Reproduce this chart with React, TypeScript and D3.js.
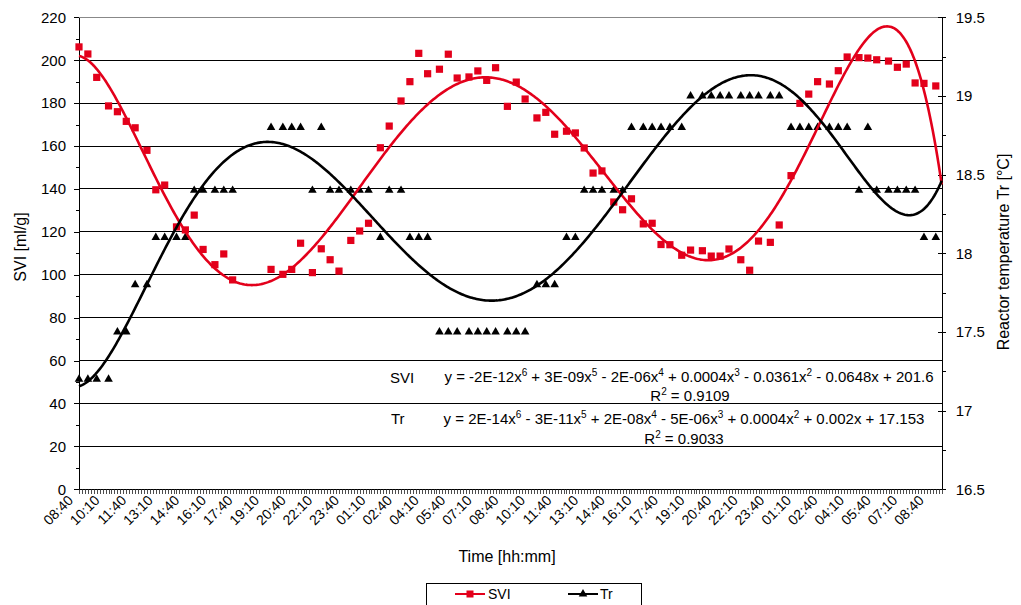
import { useEffect, useRef } from 'react';
import * as d3 from 'd3';

// rows of the sheet are 10-minute steps starting at 08:40
const CATEGORY_COUNT = 293;
const LABEL_EVERY = 9;
const xTickLabels = [
  '08:40', '10:10', '11:40', '13:10', '14:40', '16:10', '17:40', '19:10', '20:40', '22:10', '23:40',
  '01:10', '02:40', '04:10', '05:40', '07:10', '08:40', '10:10', '11:40', '13:10', '14:40', '16:10',
  '17:40', '19:10', '20:40', '22:10', '23:40', '01:10', '02:40', '04:10', '05:40', '07:10', '08:40',
];

// row index of each measurement
const sampleIdx = [
  0, 3, 6, 10, 13, 16, 19, 23, 26, 29, 33, 36, 39, 42, 46, 49, 52,
  65, 69, 72, 75, 79, 82, 85, 88, 92, 95,
  98, 102, 105, 109, 112, 115, 118, 122, 125, 128,
  132, 135, 138, 141, 145, 148, 151, 155, 158, 161,
  165, 168, 171, 174, 177, 181, 184, 187, 191, 194,
  197, 200, 204, 207, 211, 214, 217, 220, 224, 227,
  230, 234, 237, 241, 244, 247, 250, 254, 257, 260,
  264, 267, 270, 274, 277, 280, 283, 286, 290,
];

const sviValues = [
  206.2, 202.9, 192.0, 178.7, 176.0, 171.5, 168.5, 158.0, 139.6, 141.8, 122.3, 120.9, 127.8, 111.8, 104.7, 109.7, 97.6,
  102.5, 100.2, 102.5, 114.7, 101.0, 112.1, 107.0, 101.7, 116.0, 120.4,
  124.0, 159.2, 169.3, 181.0, 190.0, 203.2, 193.7, 195.8, 202.8, 191.7,
  192.2, 195.0, 190.6, 196.5, 178.5, 189.8, 181.9, 173.1, 175.7, 165.5,
  166.9, 166.1, 159.1, 147.4, 148.4, 133.9, 130.3, 135.4, 123.7, 124.0,
  114.1, 114.0, 109.1, 111.5, 111.2, 108.7, 108.7, 112.0, 107.0, 102.1,
  115.7, 115.1, 123.2, 146.2, 179.9, 184.2, 190.0, 188.9, 195.1, 201.5,
  201.2, 201.0, 200.2, 199.6, 196.7, 198.2, 189.4, 189.2, 188.0,
];

const trValues = [
  17.2, 17.2, 17.2, 17.2, 17.5, 17.5, 17.8, 17.8, 18.1, 18.1, 18.1, 18.1, 18.4, 18.4, 18.4, 18.4, 18.4,
  18.8, 18.8, 18.8, 18.8, 18.4, 18.8, 18.4, 18.4, 18.4, 18.4,
  18.4, 18.1, 18.4, 18.4, 18.1, 18.1, 18.1, 17.5, 17.5, 17.5,
  17.5, 17.5, 17.5, 17.5, 17.5, 17.5, 17.5, 17.8, 17.8, 17.8,
  18.1, 18.1, 18.4, 18.4, 18.4, 18.4, 18.4, 18.8, 18.8, 18.8,
  18.8, 18.8, 18.8, 19.0, 19.0, 19.0, 19.0, 19.0, 19.0, 19.0,
  19.0, 19.0, 19.0, 18.8, 18.8, 18.8, 18.8, 18.8, 18.8, 18.8,
  18.4, 18.8, 18.4, 18.4, 18.4, 18.4, 18.4, 18.1, 18.1,
];

const sviTicks = [0, 20, 40, 60, 80, 100, 120, 140, 160, 180, 200, 220];
const trTicks = [16.5, 17, 17.5, 18, 18.5, 19, 19.5];

const sviEquation = 'y = -2E-12x^6 + 3E-09x^5 - 2E-06x^4 + 0.0004x^3 - 0.0361x^2 - 0.0648x + 201.6';
const sviR2 = 'R^2 = 0.9109';
const trEquation = 'y = 2E-14x^6 - 3E-11x^5 + 2E-08x^4 - 5E-06x^3 + 0.0004x^2 + 0.002x + 17.153';
const trR2 = 'R^2 = 0.9033';

const RED = '#e3001b';
const FONT = '"Liberation Sans", Arial, sans-serif';

// least squares polynomial, like the Excel trendline
function polyfit(xs: number[], ys: number[], deg: number) {
  const c = (CATEGORY_COUNT - 1) / 2;
  const n = deg + 1;
  const A: number[][] = Array.from({ length: n }, () => new Array(n + 1).fill(0));
  xs.forEach((xv, i) => {
    const t = (xv - c) / c;
    const pw = [1];
    for (let k = 1; k <= 2 * deg; k++) pw.push(pw[k - 1] * t);
    for (let r = 0; r < n; r++) {
      for (let q = 0; q < n; q++) A[r][q] += pw[r + q];
      A[r][n] += pw[r] * ys[i];
    }
  });
  for (let col = 0; col < n; col++) {
    let piv = col;
    for (let r = col + 1; r < n; r++) if (Math.abs(A[r][col]) > Math.abs(A[piv][col])) piv = r;
    [A[col], A[piv]] = [A[piv], A[col]];
    for (let r = 0; r < n; r++) {
      if (r === col) continue;
      const f = A[r][col] / A[col][col];
      for (let q = col; q <= n; q++) A[r][q] -= f * A[col][q];
    }
  }
  const coef = A.map((row, i) => row[n] / A[i][i]);
  return (xv: number) => {
    const t = (xv - c) / c;
    let v = 0;
    for (let k = n - 1; k >= 0; k--) v = v * t + coef[k];
    return v;
  };
}

export default function App() {
  const svgRef = useRef<SVGSVGElement>(null);

  useEffect(() => {
    if (!svgRef.current) return;
    const svg = d3.select(svgRef.current);
    svg.selectAll('*').remove();

    const left = 79, right = 941.7, top = 17.3, bottom = 489.3;

    const x = d3.scaleLinear().domain([0, CATEGORY_COUNT - 1]).range([left, right]);
    const yL = d3.scaleLinear().domain([0, 220]).range([bottom, top]);
    const yR = d3.scaleLinear().domain([16.5, 19.5]).range([bottom, top]);

    // gridlines
    svg.append('g')
      .selectAll('line')
      .data(sviTicks.slice(1))
      .enter().append('line')
      .attr('x1', left).attr('x2', right)
      .attr('y1', d => yL(d)).attr('y2', d => yL(d))
      .attr('stroke', d => (d === 220 ? '#888' : '#000'))
      .attr('stroke-width', 1)
      .attr('shape-rendering', 'crispEdges');

    // left axis
    const gl = svg.append('g').attr('transform', `translate(${left},0)`);
    gl.call(d3.axisLeft(yL).tickValues(d3.range(10, 220, 20)).tickSize(3).tickSizeOuter(0).tickFormat(() => '') as any);
    gl.append('g').call(d3.axisLeft(yL).tickValues(sviTicks).tickSize(5).tickSizeOuter(0).tickPadding(8) as any);

    // right axis
    const gr = svg.append('g').attr('transform', `translate(${right},0)`);
    gr.call(d3.axisRight(yR).tickValues(d3.range(16.75, 19.5, 0.5)).tickSize(4).tickSizeOuter(0).tickFormat(() => '') as any);
    gr.append('g').call(d3.axisLeft(yR).tickValues(trTicks).tickSize(4).tickSizeOuter(0).tickFormat(() => '') as any);
    gr.append('g').call(d3.axisRight(yR).tickValues(trTicks).tickSize(4).tickSizeOuter(0).tickPadding(10)
      .tickFormat(d => String(d)) as any);
    gr.select('.domain').attr('stroke', '#444');

    // bottom axis, one tick per row
    const gb = svg.append('g').attr('transform', `translate(0,${bottom})`);
    gb.call(d3.axisBottom(x).tickValues(d3.range(CATEGORY_COUNT)).tickSize(5).tickSizeOuter(0).tickFormat(() => '') as any);
    gb.selectAll('.tick line').attr('stroke', '#222').attr('stroke-width', 0.8);

    // drop the empty labels of the unlabelled tick sets
    svg.selectAll('.tick text').filter(function () { return !(this as SVGTextElement).textContent; }).remove();
    svg.selectAll('.tick text')
      .attr('font-family', FONT)
      .attr('font-size', 15)
      .attr('fill', '#000');
    svg.selectAll('.domain').attr('shape-rendering', 'crispEdges');
    svg.selectAll('.tick line').attr('shape-rendering', 'crispEdges');

    svg.append('g')
      .selectAll('text')
      .data(xTickLabels)
      .enter().append('text')
      .attr('transform', (_, i) => `translate(${x(i * LABEL_EVERY) - 5},${bottom + 12}) rotate(-45)`)
      .attr('text-anchor', 'end')
      .attr('font-family', FONT)
      .attr('font-size', 14)
      .text(d => d);

    // trendlines
    const fitSvi = polyfit(sampleIdx, sviValues, 6);
    const fitTr = polyfit(sampleIdx, trValues, 6);
    const grid = d3.range(0, CATEGORY_COUNT - 1 + 0.001, 0.5);

    // markers
    const pts = sampleIdx.map((idx, i) => ({ idx, svi: sviValues[i], tr: trValues[i] }));
    svg.append('g')
      .selectAll('rect')
      .data(pts)
      .enter().append('rect')
      .attr('x', d => x(d.idx) - 3.6)
      .attr('y', d => yL(d.svi) - 3.6)
      .attr('width', 7.2).attr('height', 7.2)
      .attr('fill', RED);

    const tri = d3.symbol().type(d3.symbolTriangle).size(32);
    svg.append('g')
      .selectAll('path')
      .data(pts)
      .enter().append('path')
      .attr('d', tri as any)
      .attr('transform', d => `translate(${x(d.idx)},${yR(d.tr)})`)
      .attr('fill', '#000');

    svg.append('path')
      .datum(grid)
      .attr('fill', 'none')
      .attr('stroke', RED)
      .attr('stroke-width', 2.6)
      .attr('d', d3.line<number>().x(d => x(d)).y(d => yL(fitSvi(d))));

    svg.append('path')
      .datum(grid)
      .attr('fill', 'none')
      .attr('stroke', '#000')
      .attr('stroke-width', 2.6)
      .attr('d', d3.line<number>().x(d => x(d)).y(d => yR(fitTr(d))));

    // equation labels, ^n becomes a superscript
    const writeEq = (str: string, cx: number, by: number, anchor: string) => {
      const t = svg.append('text')
        .attr('x', cx).attr('y', by)
        .attr('text-anchor', anchor)
        .attr('font-family', FONT)
        .attr('font-size', 15);
      let shift = 0;
      str.split(/(\^\d)/).forEach(part => {
        if (!part) return;
        if (part.startsWith('^')) {
          t.append('tspan').attr('dy', -6).attr('font-size', 10).text(part.slice(1));
          shift = 6;
        } else {
          t.append('tspan').attr('dy', shift).text(part);
          shift = 0;
        }
      });
    };
    writeEq('SVI', 390, 383, 'start');
    writeEq(sviEquation, 689, 382, 'middle');
    writeEq(sviR2, 690, 401, 'middle');
    writeEq('Tr', 391, 423.5, 'start');
    writeEq(trEquation, 684, 423.5, 'middle');
    writeEq(trR2, 684, 443.5, 'middle');

    // axis titles
    svg.append('text')
      .attr('transform', 'translate(20,247) rotate(-90)')
      .attr('text-anchor', 'middle').attr('dy', '0.35em')
      .attr('font-family', FONT).attr('font-size', 16)
      .text('SVI [ml/g]');
    svg.append('text')
      .attr('transform', 'translate(1003,252) rotate(-90)')
      .attr('text-anchor', 'middle').attr('dy', '0.35em')
      .attr('font-family', FONT).attr('font-size', 16)
      .text('Reactor temperature Tr [°C]');
    svg.append('text')
      .attr('x', 507).attr('y', 561.5)
      .attr('text-anchor', 'middle')
      .attr('font-family', FONT).attr('font-size', 16)
      .text('Time [hh:mm]');

    // legend
    const lg = svg.append('g');
    lg.append('rect')
      .attr('x', 426.5).attr('y', 583.5).attr('width', 215).attr('height', 40)
      .attr('fill', '#fff').attr('stroke', '#000').attr('stroke-width', 1)
      .attr('shape-rendering', 'crispEdges');
    lg.append('line').attr('x1', 455).attr('x2', 485).attr('y1', 594).attr('y2', 594)
      .attr('stroke', RED).attr('stroke-width', 2);
    lg.append('rect').attr('x', 466.5).attr('y', 590.5).attr('width', 7).attr('height', 7).attr('fill', RED);
    lg.append('text').attr('x', 488).attr('y', 599).attr('font-family', FONT).attr('font-size', 14).text('SVI');
    lg.append('line').attr('x1', 568).attr('x2', 598).attr('y1', 594).attr('y2', 594)
      .attr('stroke', '#000').attr('stroke-width', 2);
    lg.append('path').attr('d', tri as any).attr('transform', 'translate(583,594)').attr('fill', '#000');
    lg.append('text').attr('x', 600).attr('y', 599).attr('font-family', FONT).attr('font-size', 14).text('Tr');
  }, []);

  return (
    <svg
      ref={svgRef}
      width={1021}
      height={605}
      style={{ position: 'absolute', left: 0, top: 0, background: '#fff' }}
    />
  );
}
